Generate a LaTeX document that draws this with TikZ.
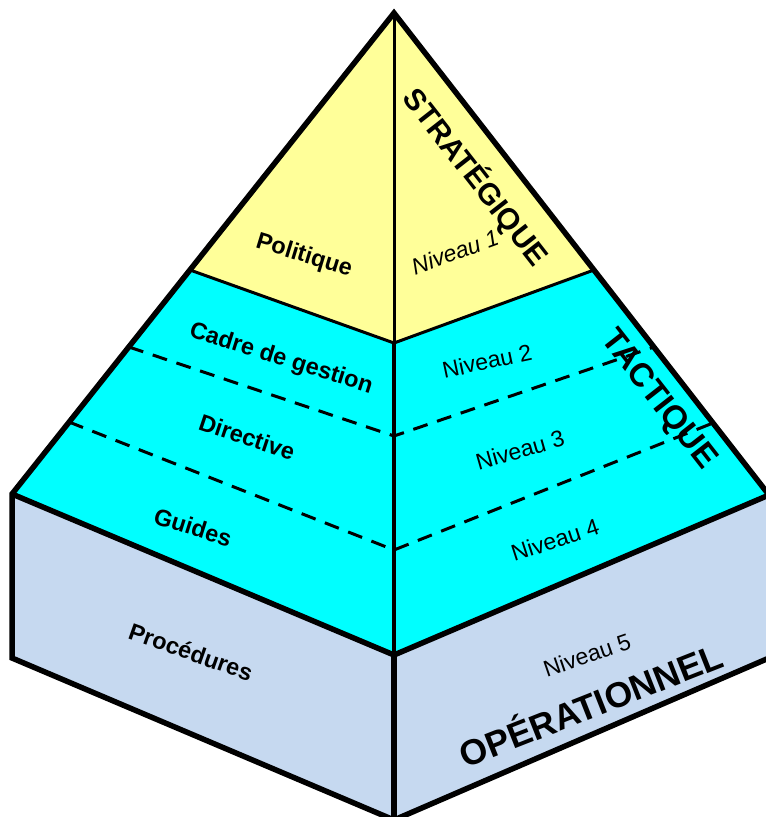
\documentclass[tikz,border=0pt]{standalone}
\usepackage{fontspec}
\setmainfont{Liberation Sans}
\definecolor{pyel}{HTML}{FFFF99}
\definecolor{pcyan}{HTML}{00FFFF}
\definecolor{pblue}{HTML}{C6D9F0}
\begin{document}
\begin{tikzpicture}[x=1pt,y=-1pt,
  outline/.style={line width=5.5pt,line join=miter},
  innerln/.style={line width=3pt},
  dashln/.style={line width=3pt,dash pattern=on 15pt off 10pt},
  lbl/.style={font=\fontsize{23.5}{28}\selectfont\bfseries,inner sep=0pt},
  niv/.style={font=\fontsize{23}{28}\selectfont,inner sep=0pt},
  big/.style={font=\bfseries,inner sep=0pt}]
\useasboundingbox (0,0) rectangle (766,817);
% key points
\coordinate (A) at (394,13);
\coordinate (L) at (12,494);
\coordinate (R) at (769,495);
\coordinate (C) at (394,655);
\coordinate (B) at (394,820);
\coordinate (LB) at (12,658);
\coordinate (RB) at (769,658);
\coordinate (YL) at (190,270);
\coordinate (YC) at (394,343);
\coordinate (YR) at (594,270);
\coordinate (D1L) at (129,347);
\coordinate (D1C) at (394,436);
\coordinate (D1R) at (654,347);
\coordinate (D2L) at (69,422);
\coordinate (D2C) at (394,550);
\coordinate (D2R) at (713,423);
% fills
\fill[pblue] (L) -- (C) -- (B) -- (LB) -- cycle;
\fill[pblue] (C) -- (R) -- (RB) -- (B) -- cycle;
\fill[pcyan] (YL) -- (L) -- (C) -- (R) -- (YR) -- (YC) -- cycle;
\fill[pyel] (A) -- (YL) -- (YC) -- (YR) -- cycle;
% dashed separators
\draw[dashln] (D1L) -- (D1C) -- (D1R);
\draw[dashln] (D2L) -- (D2C) -- (D2R);
% inner lines
\draw[innerln] (YL) -- (YC) -- (YR);
\draw[innerln] (A) -- (YC);
\draw[line width=4pt] (YC) -- (C);
% outline
\draw[outline] (A) -- (L) -- (LB) -- (B) -- (RB) -- (R) -- cycle;
\draw[outline] (L) -- (C) -- (R);
\draw[outline] (C) -- (B);
% left labels
\node[lbl,rotate=-17] (politique) at (304,256) {Politique};
\node[lbl,rotate=-17.5] (cadre) at (281,359) {Cadre de gestion};
\node[lbl,rotate=-18.5] (directive) at (247,437) {Directive};
\node[lbl,rotate=-17.5] (guides) at (193,527) {Guides};
\node[lbl,rotate=-19.5] (proc) at (191,652) {Procédures};
% right labels
\node[niv,rotate=20] (n1) at (455,252) {\itshape Niveau 1};
\node[niv,rotate=12] (n2) at (487,361) {Niveau 2};
\node[niv,rotate=16] (n3) at (520,450) {Niveau 3};
\node[niv,rotate=18] (n4) at (555,540) {Niveau 4};
\node[niv,rotate=19] (n5) at (587,655) {Niveau 5};
\node[big,font=\fontsize{30}{34}\selectfont\bfseries,rotate=-52] (strat) at (476,177) {STRATÉGIQUE};
\node[big,font=\fontsize{33}{38}\selectfont\bfseries,rotate=-52] (tact) at (658,400) {TACTIQUE};
\node[big,font=\fontsize{35.5}{40}\selectfont\bfseries,rotate=21.5] (oper) at (590,703) {OPÉRATIONNEL};
\end{tikzpicture}
\end{document}
